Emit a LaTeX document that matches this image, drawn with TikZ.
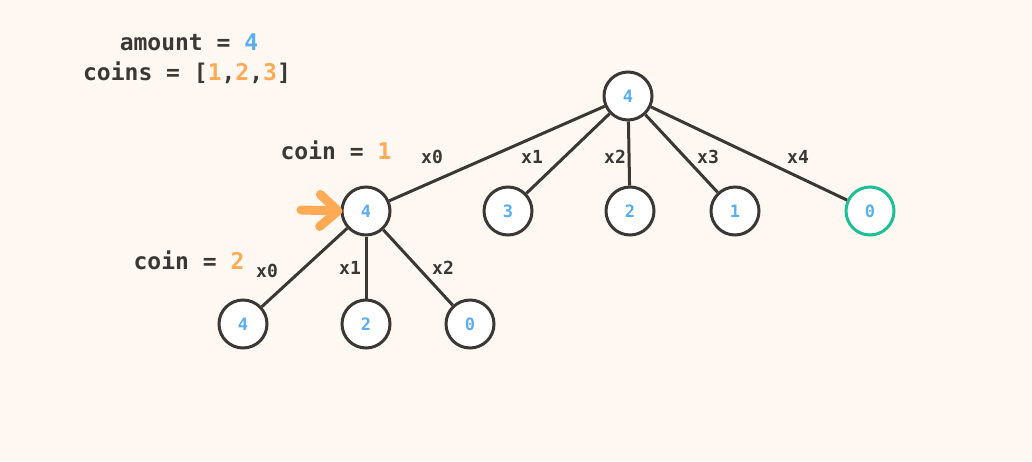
\documentclass[tikz,border=0pt]{standalone}
\usepackage{fontspec}
\setmonofont{DejaVu Sans Mono}
\usepackage{xcolor}
\usetikzlibrary{arrows.meta, positioning}

\definecolor{bgcream}{HTML}{FFF8F2}
\definecolor{inkdark}{HTML}{3B3734}
\definecolor{numblue}{HTML}{5AAEF0}
\definecolor{coinorange}{HTML}{FFAA55}
\definecolor{hitgreen}{HTML}{1DBF95}

\begin{document}
\begin{tikzpicture}[
    x=0.5pt, y=-0.5pt,
    every node/.style={font=\ttfamily\bfseries, text=inkdark},
    state/.style={
        circle, draw=inkdark, line width=1.5pt, fill=white,
        minimum size=24pt, inner sep=0pt, font=\ttfamily\bfseries\fontsize{8.5}{9}\selectfont, text=numblue
    },
    found/.style={state, draw=hitgreen},
    edge/.style={draw=inkdark, line width=1.5pt},
    edgelabel/.style={font=\ttfamily\bfseries\fontsize{9}{9}\selectfont},
    caption/.style={font=\ttfamily\bfseries\fontsize{11.5}{12}\selectfont},
    pointer/.style={
        -{Straight Barb[round, length=9pt, width=16pt]}, line width=4.5pt,
        line cap=round, draw=coinorange
    }
]
% canvas
\fill[bgcream] (0,0) rectangle (1032,461);
\useasboundingbox (0,0) rectangle (1032,461);

% Problem statement
\node[caption] (amount) at (189,42) {amount = \textcolor{numblue}{4}};
\node[caption] (coins) at (187,73) {coins = [\textcolor{coinorange}{1},\textcolor{coinorange}{2},\textcolor{coinorange}{3}]};

% Level 0
\node[state] (root) at (628,96) {4};

% Level 1: coin = 1
\node[caption] (coinone) at (336,150) {coin = \textcolor{coinorange}{1}};
\node[state] (a0) at (366,211) {4};
\node[state] (a1) at (508,211) {3};
\node[state] (a2) at (630,211) {2};
\node[state] (a3) at (735,211) {1};
\node[found] (a4) at (870,211) {0};

% Level 2: coin = 2
\node[caption] (cointwo) at (189,260) {coin = \textcolor{coinorange}{2}};
\node[state] (b0) at (243,324) {4};
\node[state] (b1) at (366,324) {2};
\node[state] (b2) at (470,324) {0};

% Edges
\draw[edge] (root) -- (a0);
\draw[edge] (root) -- (a1);
\draw[edge] (root) -- (a2);
\draw[edge] (root) -- (a3);
\draw[edge] (root) -- (a4);
\draw[edge] (a0) -- (b0);
\draw[edge] (a0) -- (b1);
\draw[edge] (a0) -- (b2);

% Edge labels
\node[edgelabel] (la0) at (432,157) {x0};
\node[edgelabel] (la1) at (532,157) {x1};
\node[edgelabel] (la2) at (615,157) {x2};
\node[edgelabel] (la3) at (708,157) {x3};
\node[edgelabel] (la4) at (798,157) {x4};
\node[edgelabel] (lb0) at (267,271) {x0};
\node[edgelabel] (lb1) at (350,268) {x1};
\node[edgelabel] (lb2) at (443,268) {x2};

% Current node pointer
\coordinate (ptail) at (301,210);
\draw[pointer] (ptail) -- ([xshift=1pt]a0.west);

\end{tikzpicture}
\end{document}
